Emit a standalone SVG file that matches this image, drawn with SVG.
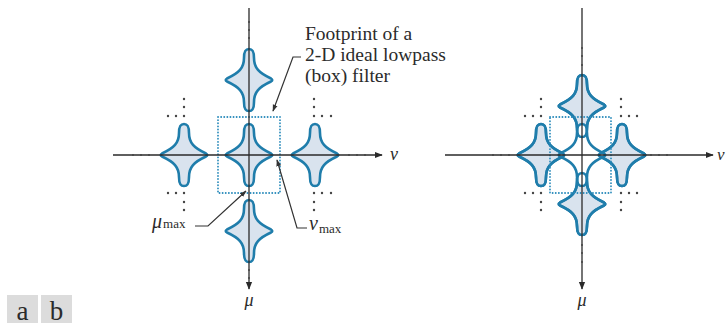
<svg xmlns="http://www.w3.org/2000/svg" xmlns:xlink="http://www.w3.org/1999/xlink" width="727" height="329" viewBox="0 0 727 329">
<style>
.shape{fill:#d9e3ee;stroke:#1f7dab;stroke-width:2.6;stroke-linejoin:round}
.outline{fill:none;stroke:#1f7dab;stroke-width:2.6;stroke-linejoin:round}
.axis{stroke:#2a2a2a;stroke-width:1.3;fill:none}
.box{fill:none;stroke:#2a8bbb;stroke-width:1.8;stroke-dasharray:0.1 3;stroke-linecap:round}
.dot{fill:#444}
.lead{fill:none;stroke:#333;stroke-width:1.2}
.txt{font-family:"Liberation Serif",serif;fill:#2b2b2b}
.greek{font-family:"Liberation Serif",serif;font-style:italic;fill:#2b2b2b}
</style>
<defs>
<path id="star" d="M0,-31 C4,-31 5,-28 5,-22 C5,-12 10,-7 22,-1.5 Q24.5,0 22,1.5 C10,7 5,12 5,22 C5,28 4,31 0,31 C-4,31 -5,28 -5,22 C-5,12 -10,7 -22,1.5 Q-24.5,0 -22,-1.5 C-10,-7 -5,-12 -5,-22 C-5,-28 -4,-31 0,-31 Z"/>
<marker id="ah" viewBox="0 0 10 10" refX="9" refY="5" markerWidth="8" markerHeight="8" orient="auto" markerUnits="userSpaceOnUse"><path d="M0,1 L10,5 L0,9 Z" fill="#2a2a2a"/></marker>
<marker id="lh" viewBox="0 0 10 10" refX="9" refY="5" markerWidth="7" markerHeight="7" orient="auto" markerUnits="userSpaceOnUse"><path d="M0,1.5 L10,5 L0,8.5 Z" fill="#333"/></marker>
</defs>

<g id="figure-a">
<g id="a-shapes">
<use xlink:href="#star" class="shape" x="249" y="80"/>
<use xlink:href="#star" class="shape" x="184" y="155"/>
<use xlink:href="#star" class="shape" x="249" y="155"/>
<use xlink:href="#star" class="shape" x="315" y="155"/>
<use xlink:href="#star" class="shape" x="249" y="231"/>
</g>
<rect id="a-box" class="box" x="218" y="117" width="62" height="76"/>
<g id="a-axes">
<line class="axis" x1="113" y1="155" x2="382" y2="155" marker-end="url(#ah)"/>
<line class="axis" x1="249" y1="8" x2="249" y2="289" marker-end="url(#ah)"/>
</g>
<g id="a-dots" class="dot">
<circle cx="249" cy="22" r="1"/><circle cx="249" cy="30" r="1"/><circle cx="249" cy="38" r="1"/>
<circle cx="249" cy="270" r="1"/><circle cx="249" cy="278" r="1"/>
<circle cx="133" cy="155" r="1"/><circle cx="141" cy="155" r="1"/><circle cx="149" cy="155" r="1"/>
<circle cx="349" cy="155" r="1"/><circle cx="357" cy="155" r="1"/><circle cx="365" cy="155" r="1"/>
<circle cx="184" cy="99" r="1.2"/><circle cx="184" cy="107" r="1.2"/><circle cx="184" cy="116" r="1.2"/><circle cx="176" cy="116" r="1.2"/><circle cx="168" cy="116" r="1.2"/>
<circle cx="314" cy="99" r="1.2"/><circle cx="314" cy="107" r="1.2"/><circle cx="314" cy="116" r="1.2"/><circle cx="322" cy="116" r="1.2"/><circle cx="331" cy="116" r="1.2"/>
<circle cx="168" cy="193" r="1.2"/><circle cx="176" cy="193" r="1.2"/><circle cx="184" cy="193" r="1.2"/><circle cx="184" cy="202" r="1.2"/><circle cx="184" cy="210" r="1.2"/>
<circle cx="314" cy="193" r="1.2"/><circle cx="322" cy="193" r="1.2"/><circle cx="331" cy="193" r="1.2"/><circle cx="314" cy="202" r="1.2"/><circle cx="314" cy="210" r="1.2"/>
</g>
<g id="a-connectors">
<polyline class="lead" points="301,57 293,57 273,111" marker-end="url(#lh)"/>
<polyline class="lead" points="195,226 208,226 246,191" marker-end="url(#lh)"/>
<polyline class="lead" points="307,228 297,228 277,160" marker-end="url(#lh)"/>
</g>
<g id="a-labels">
<text class="txt" font-size="19.5" x="305" y="40">Footprint of a</text>
<text class="txt" font-size="19.5" x="305" y="61">2-D ideal lowpass</text>
<text class="txt" font-size="19.5" x="305" y="82">(box) filter</text>
<text class="greek" font-size="20" x="152" y="228">μ<tspan class="txt" font-style="normal" font-size="13" dx="1">max</tspan></text>
<text class="greek" font-size="20" x="309" y="230">ν<tspan class="txt" font-style="normal" font-size="13" dx="1" dy="3">max</tspan></text>
<text class="greek" font-size="18" x="390" y="160">ν</text>
<text class="greek" font-size="18" x="249" y="306" text-anchor="middle">μ</text>
</g>
</g>

<g id="figure-b">
<g id="b-shapes">
<use xlink:href="#star" class="shape" x="582" y="106"/>
<use xlink:href="#star" class="shape" x="541" y="155"/>
<use xlink:href="#star" class="shape" x="622" y="155"/>
<use xlink:href="#star" class="shape" x="582" y="204"/>
<use xlink:href="#star" x="582" y="155" fill="#ffffff" stroke="none"/>
<use xlink:href="#star" class="outline" x="582" y="106"/>
<use xlink:href="#star" class="outline" x="541" y="155"/>
<use xlink:href="#star" class="outline" x="622" y="155"/>
<use xlink:href="#star" class="outline" x="582" y="204"/>
<use xlink:href="#star" class="outline" x="582" y="155"/>
</g>
<rect id="b-box" class="box" x="550" y="117" width="61" height="76"/>
<g id="b-axes">
<line class="axis" x1="445" y1="155" x2="713" y2="155" marker-end="url(#ah)"/>
<line class="axis" x1="582" y1="8" x2="582" y2="289" marker-end="url(#ah)"/>
</g>
<g id="b-dots" class="dot">
<circle cx="582" cy="48" r="1"/><circle cx="582" cy="56" r="1"/><circle cx="582" cy="65" r="1"/>
<circle cx="582" cy="245" r="1"/><circle cx="582" cy="253" r="1"/><circle cx="582" cy="262" r="1"/>
<circle cx="493" cy="155" r="1"/><circle cx="501" cy="155" r="1"/><circle cx="509" cy="155" r="1"/>
<circle cx="651" cy="155" r="1"/><circle cx="659" cy="155" r="1"/><circle cx="667" cy="155" r="1"/>
<circle cx="541" cy="99" r="1.2"/><circle cx="541" cy="107" r="1.2"/><circle cx="541" cy="116" r="1.2"/><circle cx="533" cy="116" r="1.2"/><circle cx="525" cy="116" r="1.2"/>
<circle cx="621" cy="99" r="1.2"/><circle cx="621" cy="107" r="1.2"/><circle cx="621" cy="116" r="1.2"/><circle cx="629" cy="116" r="1.2"/><circle cx="637" cy="116" r="1.2"/>
<circle cx="525" cy="193" r="1.2"/><circle cx="533" cy="193" r="1.2"/><circle cx="541" cy="193" r="1.2"/><circle cx="541" cy="202" r="1.2"/><circle cx="541" cy="210" r="1.2"/>
<circle cx="621" cy="193" r="1.2"/><circle cx="629" cy="193" r="1.2"/><circle cx="637" cy="193" r="1.2"/><circle cx="621" cy="202" r="1.2"/><circle cx="621" cy="210" r="1.2"/>
</g>
<g id="b-labels">
<text class="greek" font-size="17" x="717" y="160">ν</text>
<text class="greek" font-size="18" x="582" y="306" text-anchor="middle">μ</text>
</g>
</g>

<g id="panel-labels">
<rect x="7" y="295" width="31" height="28" fill="#dcdcdc"/>
<rect x="41" y="295" width="31" height="28" fill="#dcdcdc"/>
<text class="txt" font-size="27" x="22.5" y="320" text-anchor="middle">a</text>
<text class="txt" font-size="27" x="56.5" y="320" text-anchor="middle">b</text>
</g>
</svg>
